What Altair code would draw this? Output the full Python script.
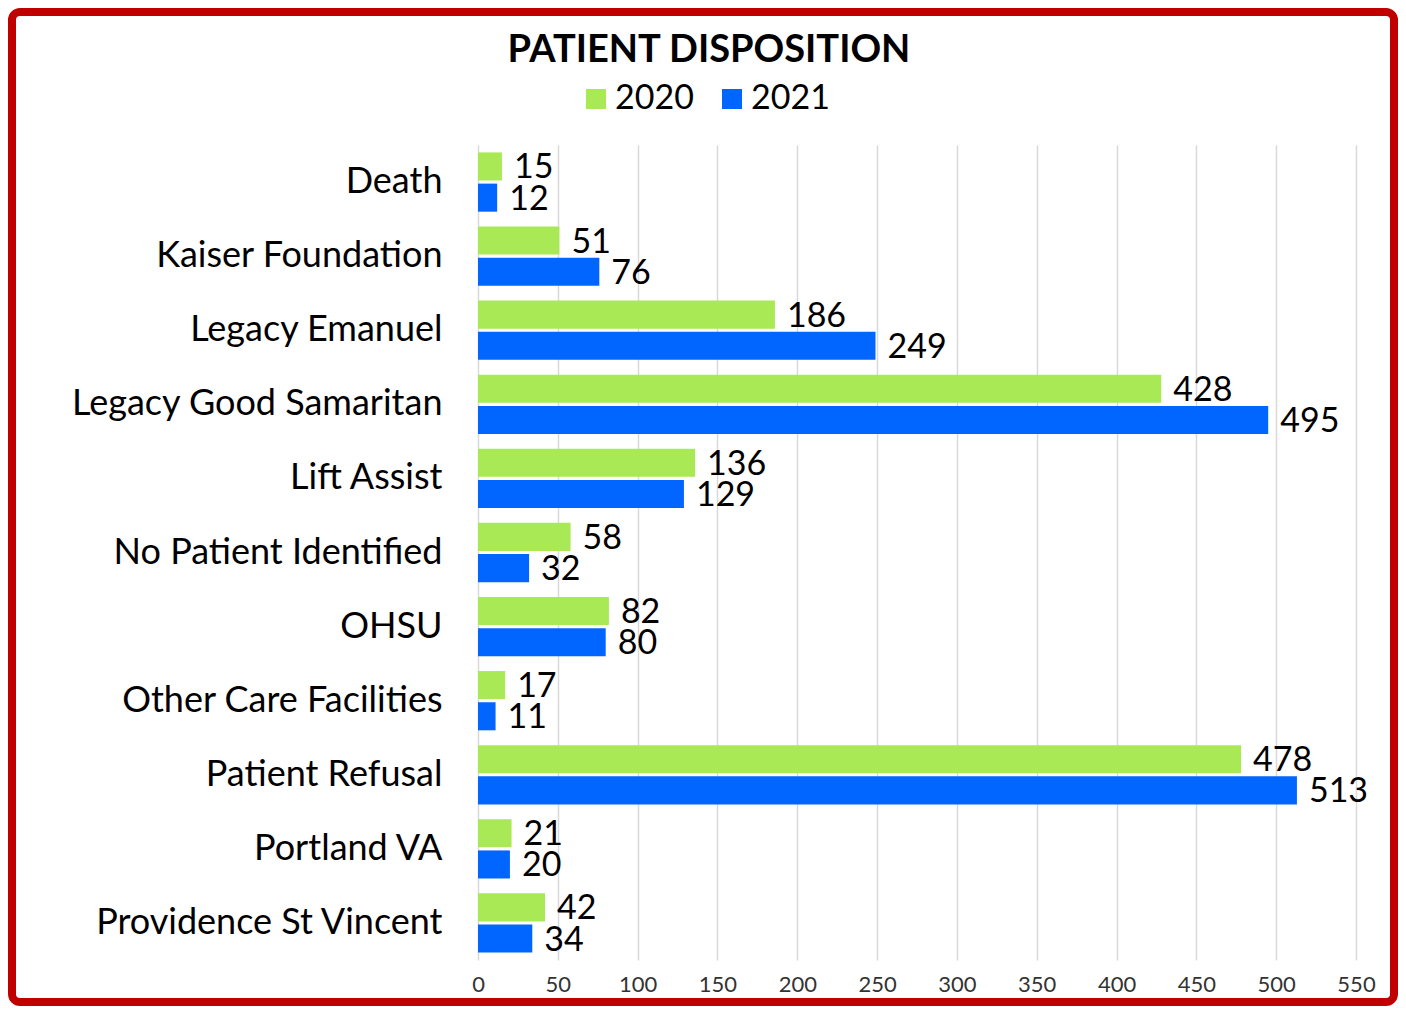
import altair as alt
import pandas as pd

categories = ["Death", "Kaiser Foundation", "Legacy Emanuel", "Legacy Good Samaritan",
              "Lift Assist", "No Patient Identified", "OHSU", "Other Care Facilities",
              "Patient Refusal", "Portland VA", "Providence St Vincent"]
years = ["2020", "2021"]
values_2020 = [15, 51, 186, 428, 136, 58, 82, 17, 478, 21, 42]
values_2021 = [12, 76, 249, 495, 129, 32, 80, 11, 513, 20, 34]
x_ticks = [0, 50, 100, 150, 200, 250, 300, 350, 400, 450, 500, 550]
title_text = "PATIENT DISPOSITION"
colors = ["#A9E955", "#0066FF"]

FONT = "Lato"

rows = []
for c, a, b in zip(categories, values_2020, values_2021):
    rows.append({"category": c, "year": "2020", "value": a})
    rows.append({"category": c, "year": "2021", "value": b})
df = pd.DataFrame(rows)

W, H = 878, 815
PL, PT = 470, 137
CW, CH = 1390, 998
PR, PB = CW - PL - W, CH - PT - H

base = alt.Chart(df).encode(
    y=alt.Y("category:N", sort=categories, title=None,
            scale=alt.Scale(paddingInner=0.2, paddingOuter=0.1),
            axis=alt.Axis(labelFontSize=36, labelFont=FONT, labelColor="#000000",
                          labelPadding=36, ticks=False, domain=False, labelLimit=600)),
    yOffset=alt.YOffset("year:N", sort=years,
                        scale=alt.Scale(paddingInner=0.1, paddingOuter=0)),
)

bars = base.mark_bar().encode(
    x=alt.X("value:Q", title=None,
            scale=alt.Scale(domain=[0, 550], nice=False),
            axis=alt.Axis(values=x_ticks, labelFontSize=22, labelFont=FONT,
                          labelColor="#333333", labelPadding=14, ticks=False,
                          labelFlush=False,
                          domain=False, grid=True, gridColor="#d9d9d9", gridWidth=1.5)),
    color=alt.Color("year:N", sort=years,
                    scale=alt.Scale(domain=years, range=colors),
                    legend=alt.Legend(title=None, orient="none", legendX=101, legendY=-63,
                                      direction="horizontal", symbolType="square",
                                      symbolSize=400, symbolStrokeWidth=0, symbolOpacity=1,
                                      labelFontSize=34, labelFont=FONT, labelColor="#000000",
                                      labelOffset=2, columnPadding=21)),
)

labels = base.mark_text(align="left", baseline="middle", dx=12, dy=2,
                        fontSize=34, font=FONT, color="#000000").encode(
    x=alt.X("value:Q"),
    text=alt.Text("value:Q"),
)

title = alt.Chart(pd.DataFrame({"t": [title_text]})).mark_text(
    fontSize=38, fontWeight="bold", font=FONT, color="#000000",
    align="center", baseline="middle").encode(
    text="t:N", x=alt.value(231), y=alt.value(-94))

border = alt.Chart(pd.DataFrame({"k": [0]})).mark_rect(
    fillOpacity=0, stroke="#C00000", strokeWidth=8, cornerRadius=8).encode(
    x=alt.value(-PL + 4), x2=alt.value(W + PR - 4),
    y=alt.value(-PT + 4), y2=alt.value(H + PB - 4))

chart = alt.layer(bars, labels, title, border).properties(
    width=W, height=H,
    autosize=alt.AutoSizeParams(type="none"),
    padding={"left": PL, "top": PT, "right": PR, "bottom": PB},
    background="#ffffff",
).configure_view(strokeWidth=0)

chart.save("out.html", embed_options={"renderer": "svg", "actions": False})
